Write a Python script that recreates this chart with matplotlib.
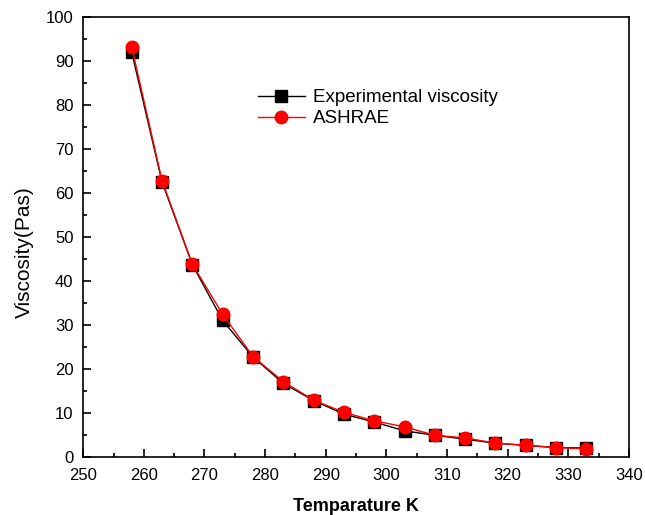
import numpy as np
import matplotlib
matplotlib.use("Agg")
import matplotlib.pyplot as plt
from matplotlib.ticker import MultipleLocator

plt.rcParams['font.family'] = ['Liberation Sans', 'DejaVu Sans']

# temperature (K) and viscosity values
temp = [258, 263, 268, 273, 278, 283, 288, 293, 298, 303, 308, 313, 318, 323, 328, 333]
exp_visc = [92.0, 62.5, 43.7, 31.0, 22.7, 16.7, 12.8, 9.7, 7.9, 5.9, 4.9, 4.0, 3.1, 2.6, 2.1, 2.0]
ashrae_visc = [93.2, 62.8, 43.8, 32.4, 22.8, 17.1, 12.9, 10.1, 8.2, 6.8, 4.9, 4.3, 3.1, 2.6, 2.1, 1.8]

fig = plt.figure(figsize=(6.45, 5.15), dpi=100)
ax = fig.add_axes([0.129, 0.113, 0.846, 0.854])

ax.plot(temp, exp_visc, color='black', marker='s', markersize=8, lw=1,
        label='Experimental viscosity')
ax.plot(temp, ashrae_visc, color='red', marker='o', markersize=9, lw=1,
        label='ASHRAE')

ax.set_xlim(250, 340)
ax.set_ylim(0, 100)
ax.xaxis.set_major_locator(MultipleLocator(10))
ax.xaxis.set_minor_locator(MultipleLocator(5))
ax.yaxis.set_major_locator(MultipleLocator(10))
ax.yaxis.set_minor_locator(MultipleLocator(5))
ax.tick_params(which='both', direction='in', labelsize=12, width=1.2)
ax.tick_params(which='major', length=6)
ax.tick_params(which='minor', length=3)
ax.tick_params(axis='x', which='major', pad=8)
ax.tick_params(axis='y', which='major', pad=7)
for s in ax.spines.values():
    s.set_linewidth(1.2)

ax.set_xlabel('Temparature K', fontsize=13, fontweight='bold', labelpad=11)
ax.set_ylabel('Viscosity(Pas)', fontsize=15)
ax.yaxis.set_label_coords(-0.09, 0.465)

ax.legend(loc='upper left', bbox_to_anchor=(0.32, 0.836), frameon=False,
          fontsize=13.5, handlelength=2.5, handletextpad=0.45,
          labelspacing=0.2, borderpad=0, borderaxespad=0)

fig.savefig('out.png', dpi=100)
